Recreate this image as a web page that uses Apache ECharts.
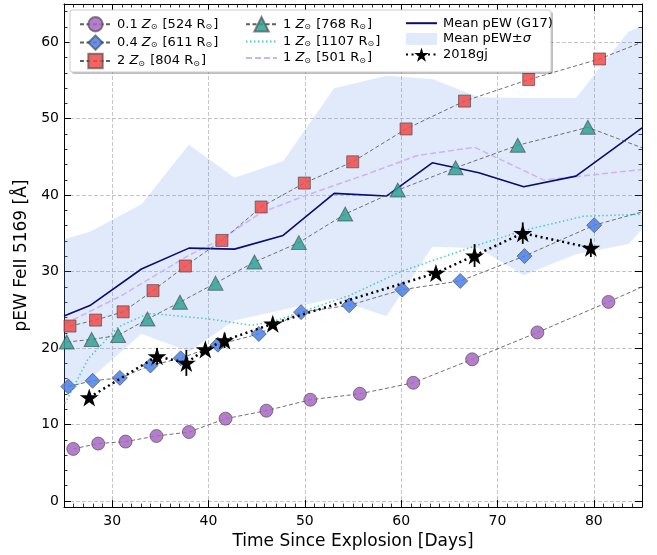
<!DOCTYPE html>
<html><head><meta charset="utf-8">
<script src="https://cdn.jsdelivr.net/npm/echarts@6/dist/echarts.min.js"></script>
<style>html,body{margin:0;padding:0;background:#fff}#c{width:657px;height:555px}</style>
</head><body><div id="c"></div>
<script>
// ---- tick values ----
const xTicks = [30, 40, 50, 60, 70, 80];
const yTicks = [0, 10, 20, 30, 40, 50, 60];

// ---- model series (markers) ----
const z01X = [25.96, 28.55, 31.39, 34.6, 37.97, 41.77, 46.01, 50.57, 55.71, 61.26, 67.37, 74.14, 81.52];
const z01Y = [6.81, 7.51, 7.77, 8.5, 9.02, 10.77, 11.81, 13.24, 14.02, 15.46, 18.53, 22.04, 26.04];
const z01End = [85, 28.0];

const z04X = [25.45, 27.97, 30.8, 33.97, 37.11, 40.97, 45.22, 49.61, 54.6, 60.12, 66.13, 72.8, 80.04];
const z04Y = [14.97, 15.72, 16.1, 17.71, 18.66, 20.44, 21.84, 24.7, 25.59, 27.64, 28.78, 32.03, 36.07];
const z04End = [85, 37.8];

const z2X = [25.62, 28.28, 31.14, 34.24, 37.6, 41.39, 45.47, 49.95, 54.97, 60.51, 66.58, 73.24, 80.59];
const z2Y = [22.88, 23.66, 24.74, 27.51, 30.73, 34.08, 38.45, 41.58, 44.36, 48.66, 52.3, 55.12, 57.81];
const z2End = [85, 60.0];

const z1aX = [25.28, 27.87, 30.62, 33.66, 37.04, 40.73, 44.77, 49.38, 54.19, 59.65, 65.65, 72.1, 79.38];
const z1aY = [20.79, 21.13, 21.65, 23.79, 26.0, 28.49, 31.25, 33.79, 37.53, 40.66, 43.58, 46.52, 48.87];
const z1aEnd = [85, 46.2];

// ---- model curves (no markers) ----
const z1bX = [25.1, 27.52, 30.62, 33.66, 34.42, 39.94, 44.43, 46.5, 49.61, 54.6, 60.12, 67.72, 72.55, 78.93, 85];
const z1bY = [12.76, 18.62, 22.75, 24.48, 24.48, 23.83, 22.98, 23.4, 24.7, 26.86, 30.08, 33.37, 35.33, 37.24, 37.5];

const z1cX = [25.1, 30.97, 34.42, 37.87, 41.33, 45.47, 49.95, 56.34, 61.68, 67.62, 74.79, 78.07, 85];
const z1cY = [23.18, 26.86, 29.47, 32.07, 34.24, 37.72, 39.88, 42.71, 45.18, 46.26, 41.99, 42.41, 43.36];

// ---- G17 mean and sigma ----
const meanX = [25, 27.69, 33.04, 37.97, 42.7, 47.74, 53.05, 58.47, 63.23, 68.06, 72.72, 78.14, 83.59, 85];
const meanY = [24.2, 25.56, 30.34, 33.07, 32.94, 34.73, 40.23, 39.88, 44.23, 42.93, 41.11, 42.49, 47.49, 48.79];
const sigma = [10.04, 9.64, 8.46, 13.53, 9.34, 9.71, 13.74, 15.72, 10.97, 9.87, 11.59, 10.21, 13.89, 13.29];

// ---- SN 2018gj ----
const snX = [27.62, 34.66, 37.7, 39.67, 41.67, 46.67, 63.61, 67.62, 72.62, 79.69];
const snY = [13.54, 18.92, 18.06, 19.83, 21.0, 23.18, 29.82, 32.1, 35.03, 33.11];
const snErr = [0.5, 1.1, 1.7, 0.6, 1.0, 0.6, 0.6, 1.5, 1.4, 1.2];

// ---- labels ----
const names = ['0.1 Z', '0.4 Z', '2 Z', '1 Z 768', '1 Z 1107', '1 Z 501', 'Mean pEW (G17)', 'Mean pEW±σ', '2018gj'];
const richLabels = {
  '0.1 Z': '0.1 {i|Z}{s|⊙} [524 R{s|⊙}]',
  '0.4 Z': '0.4 {i|Z}{s|⊙} [611 R{s|⊙}]',
  '2 Z': '2 {i|Z}{s|⊙} [804 R{s|⊙}]',
  '1 Z 768': '1 {i|Z}{s|⊙} [768 R{s|⊙}]',
  '1 Z 1107': '1 {i|Z}{s|⊙} [1107 R{s|⊙}]',
  '1 Z 501': '1 {i|Z}{s|⊙} [501 R{s|⊙}]',
  'Mean pEW (G17)': 'Mean pEW (G17)',
  'Mean pEW±σ': 'Mean pEW±{i|σ}',
  '2018gj': '2018gj'
};

const FONT = 'DejaVu Sans';
const pairs = (xs, ys) => xs.map((x, i) => [x, ys[i]]);
const withEnd = (xs, ys, end) => pairs(xs, ys).concat([{ value: end, symbol: 'none' }]);

const xMinor = []; for (let v = 26; v < 85; v++) xMinor.push(v);
const yMinor = []; for (let v = 0; v <= 64; v += 2) yMinor.push(v);

const STAR = 'path://M100 0 L122.45 69.1 L195.11 69.1 L136.33 111.8 L158.78 180.9 L100 138.2 L41.22 180.9 L63.67 111.8 L4.89 69.1 L77.55 69.1 Z';

const splitStyle = { color: '#b8b8b8', type: [4, 2], width: 0.8 };
function xAx(pos, major, showLine) {
  return {
    type: 'value', min: 25, max: 85, position: pos,
    axisLine: { show: showLine, onZero: false, lineStyle: { color: '#000', width: 1 } },
    axisTick: { show: true, inside: true, length: major ? 7 : 3.5, customValues: major ? xTicks : xMinor,
      lineStyle: { color: '#000', width: major ? 1 : 0.8 } },
    axisLabel: { show: false },
    splitLine: { show: false }
  };
}
function yAx(pos, major, showLine) {
  return {
    type: 'value', min: -0.8, max: 65, position: pos,
    axisLine: { show: showLine, onZero: false, lineStyle: { color: '#000', width: 1 } },
    axisTick: { show: true, inside: true, length: major ? 7 : 3.5, customValues: major ? yTicks : yMinor,
      lineStyle: { color: '#000', width: major ? 1 : 0.8 } },
    axisLabel: { show: false },
    splitLine: { show: false }
  };
}

const xMain = xAx('bottom', true, true);
xMain.axisLabel = { show: true, customValues: xTicks, fontSize: 14, color: '#000', fontFamily: FONT, margin: 7 };
xMain.splitLine = { show: true, lineStyle: splitStyle };
xMain.name = 'Time Since Explosion [Days]';
xMain.nameLocation = 'middle';
xMain.nameGap = 25;
xMain.nameTextStyle = { fontSize: 17, color: '#000', fontFamily: FONT };

const yMain = yAx('left', true, true);
yMain.axisLabel = { show: true, customValues: yTicks, fontSize: 14, color: '#000', fontFamily: FONT, margin: 5 };
yMain.splitLine = { show: true, lineStyle: splitStyle };
yMain.name = 'pEW FeII 5169 [Å]';
yMain.nameLocation = 'middle';
yMain.nameGap = 27;
yMain.nameTextStyle = { fontSize: 17, color: '#000', fontFamily: FONT };

const dashGray = { color: '#606060', width: 0.9, type: [4, 2.5] };
const markerBorder = { borderColor: 'rgba(70,70,70,0.75)', borderWidth: 1, opacity: 0.85 };
const noSym = { color: 'rgba(0,0,0,0)', borderWidth: 0, opacity: 0 };

const legendText = {
  fontFamily: FONT, fontSize: 13, color: '#000', padding: [0, 0, 0, 1],
  rich: {
    i: { fontFamily: FONT, fontSize: 13, fontStyle: 'italic', color: '#000' },
    s: { fontFamily: FONT, fontSize: 8, color: '#000', verticalAlign: 'bottom', padding: [0, 1, 0, 0] }
  }
};
function legend(left, data) {
  return {
    left: left, top: 11, orient: 'vertical', itemWidth: 31, itemHeight: 18, itemGap: 2,
    selectedMode: false, textStyle: legendText, data: data, z: 10,
    formatter: n => richLabels[n]
  };
}

const chart = echarts.init(document.getElementById('c'), null, { renderer: 'canvas' });
chart.setOption({
  animation: false,
  backgroundColor: '#fff',
  grid: { left: 64, right: 15, top: 4, bottom: 46, containLabel: false },
  xAxis: [xMain, xAx('bottom', false, false), xAx('top', true, true), xAx('top', false, false)],
  yAxis: [yMain, yAx('left', false, false), yAx('right', true, true), yAx('right', false, false)],
  legend: [
    legend(74, [names[0], names[1], names[2]]),
    legend(240, [names[3], { name: names[4], itemStyle: noSym }, { name: names[5], itemStyle: noSym }]),
    legend(400, [{ name: names[6], itemStyle: noSym }, { name: names[7], icon: 'path://M0 0H31V12H0Z' }, names[8]])
  ],
  graphic: [
    { type: 'rect', shape: { x: 72, y: 12, width: 481, height: 62, r: 2 }, style: { fill: 'rgba(0,0,0,0.25)' }, z: 5 },
    { type: 'rect', shape: { x: 70, y: 10, width: 481, height: 62, r: 2 }, style: { fill: '#fff', stroke: '#cccccc', lineWidth: 1 }, z: 6 }
  ],
  series: [
    {
      name: names[7], type: 'custom', z: 1, clip: true, silent: true,
      itemStyle: { color: 'rgba(100,149,237,0.2)' },
      data: meanX.map((x, i) => [x, meanY[i] - sigma[i], meanY[i] + sigma[i]]),
      encode: { x: 0, y: [1, 2] },
      renderItem: function (params, api) {
        if (params.dataIndex !== 0) return null;
        const up = meanX.map((x, i) => api.coord([x, meanY[i] + sigma[i]]));
        const lo = meanX.map((x, i) => api.coord([x, meanY[i] - sigma[i]])).reverse();
        return { type: 'polygon', shape: { points: up.concat(lo) }, style: { fill: 'rgba(100,149,237,0.2)' } };
      }
    },
    { name: names[0], type: 'line', z: 3, data: withEnd(z01X, z01Y, z01End), symbol: 'circle', symbolSize: 13,
      lineStyle: dashGray, itemStyle: Object.assign({ color: '#a867c4' }, markerBorder) },
    { name: names[1], type: 'line', z: 3, data: withEnd(z04X, z04Y, z04End), symbol: 'diamond', symbolSize: 15,
      lineStyle: dashGray, itemStyle: Object.assign({ color: '#4a7fe6' }, markerBorder) },
    { name: names[2], type: 'line', z: 3, data: withEnd(z2X, z2Y, z2End), symbol: 'rect', symbolSize: 12,
      lineStyle: dashGray, itemStyle: Object.assign({ color: '#ee4a4a' }, markerBorder) },
    { name: names[3], type: 'line', z: 3, data: withEnd(z1aX, z1aY, z1aEnd), symbol: 'triangle', symbolSize: [15, 14],
      lineStyle: dashGray, itemStyle: Object.assign({ color: '#2ea197' }, markerBorder) },
    { name: names[4], type: 'line', z: 2, data: pairs(z1bX, z1bY), symbol: 'none',
      lineStyle: { color: '#40cfc9', width: 1.5, type: [1.5, 2.5] }, itemStyle: { color: '#40cfc9' } },
    { name: names[5], type: 'line', z: 2, data: pairs(z1cX, z1cY), symbol: 'none',
      lineStyle: { color: '#cdb3f3', width: 1.5, type: [6, 3] }, itemStyle: { color: '#cdb3f3' } },
    { name: names[6], type: 'line', z: 2, data: pairs(meanX, meanY), symbol: 'none',
      lineStyle: { color: '#0b0b70', width: 1.6 }, itemStyle: { color: '#0b0b70' } },
    {
      name: 'err', type: 'custom', z: 4, silent: true,
      data: snX.map((x, i) => [x, snY[i], snErr[i]]),
      encode: { x: 0, y: 1 },
      renderItem: function (params, api) {
        const x = api.value(0), y = api.value(1), e = api.value(2);
        const p1 = api.coord([x, y - e]), p2 = api.coord([x, y + e]);
        return { type: 'line', shape: { x1: p1[0], y1: p1[1], x2: p2[0], y2: p2[1] }, style: { stroke: '#000', lineWidth: 1.8 } };
      }
    },
    { name: names[8], type: 'line', z: 5, data: pairs(snX, snY), symbol: STAR, symbolSize: 19, symbolKeepAspect: true,
      lineStyle: { color: '#000', width: 2.5, type: [2, 3.5] }, itemStyle: { color: '#000' } }
  ]
});
</script></body></html>
